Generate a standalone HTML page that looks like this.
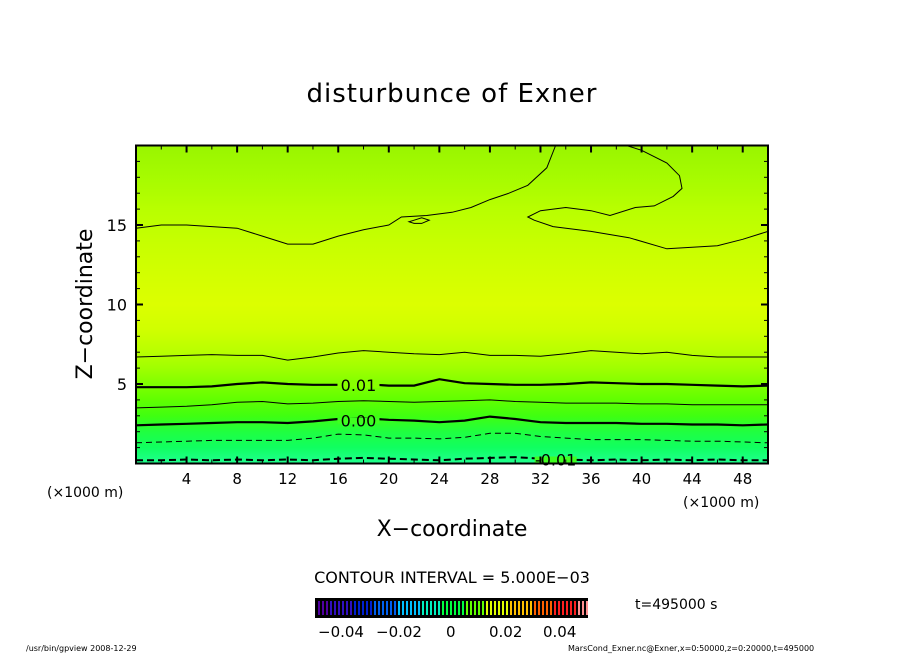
<!DOCTYPE html>
<html><head><meta charset="utf-8"><style>
body{margin:0;background:#fff;}
svg text{font-family:"DejaVu Sans","Liberation Sans",sans-serif;}
</style></head><body>
<svg id="chart" width="904" height="654" xmlns="http://www.w3.org/2000/svg">
<defs>
<linearGradient id="field" x1="0" y1="1" x2="0" y2="0">
<stop offset="0" stop-color="#20ff90"/><stop offset="0.05" stop-color="#10ff60"/>
<stop offset="0.1" stop-color="#20ff40"/><stop offset="0.15" stop-color="#40ff10"/>
<stop offset="0.2" stop-color="#60ff00"/><stop offset="0.25" stop-color="#80ff00"/>
<stop offset="0.3" stop-color="#a0ff00"/><stop offset="0.35" stop-color="#b8ff00"/>
<stop offset="0.42" stop-color="#d0ff00"/><stop offset="0.5" stop-color="#dcff00"/>
<stop offset="0.6" stop-color="#d2ff00"/><stop offset="0.7" stop-color="#c6ff00"/>
<stop offset="0.8" stop-color="#b8ff00"/><stop offset="0.9" stop-color="#a6fb00"/>
<stop offset="1" stop-color="#99f500"/>
</linearGradient>
<linearGradient id="cbar" x1="0" x2="1">
<stop offset="0" stop-color="#5000a0"/><stop offset="0.2" stop-color="#0020d0"/>
<stop offset="0.35" stop-color="#00c0ff"/><stop offset="0.5" stop-color="#00ff40"/>
<stop offset="0.65" stop-color="#e0ff00"/><stop offset="0.8" stop-color="#ff6000"/>
<stop offset="1" stop-color="#ff9090"/>
</linearGradient>
</defs>
<text x="452" y="102" font-size="26" text-anchor="middle" letter-spacing="1">disturbunce of Exner</text>
<rect x="136" y="145.5" width="632" height="318" fill="url(#field)"/>
<g id="contours"></g>
<g id="ticks"></g>
<rect x="136" y="145.5" width="632" height="318" fill="none" stroke="#000" stroke-width="2"/>
<text transform="translate(92,304) rotate(-90)" font-size="22" text-anchor="middle">Z−coordinate</text>
<text x="452" y="536" font-size="22" text-anchor="middle">X−coordinate</text>
<text x="47" y="497" font-size="14">(×1000 m)</text>
<text x="683" y="507" font-size="14">(×1000 m)</text>
<text x="452" y="583" font-size="16" text-anchor="middle">CONTOUR INTERVAL = 5.000E−03</text>
<rect x="315" y="598" width="273" height="20" fill="#000"/>
<g id="cbarlines"></g>
<text y="637" font-size="15">
<tspan x="318">−0.04</tspan><tspan x="376">−0.02</tspan><tspan x="446">0</tspan><tspan x="489">0.02</tspan><tspan x="543">0.04</tspan></text>
<text x="635" y="609" font-size="14">t=495000 s</text>
<text x="26" y="651" font-size="8">/usr/bin/gpview   2008-12-29</text>
<text x="568" y="651" font-size="8">MarsCond_Exner.nc@Exner,x=0:50000,z=0:20000,t=495000</text>
</svg>
<script>
const xs = [0,2,4,6,8,10,12,14,16,18,20,22,24,26,28,30,32,34,36,38,40,42,44,46,48,50];
const c015 = [6.7,6.75,6.8,6.85,6.8,6.8,6.5,6.7,6.95,7.1,7.0,6.9,6.85,7.0,6.8,6.8,6.75,6.9,7.1,7.0,6.9,7.0,6.8,6.7,6.7,6.7];
const c010 = [4.8,4.8,4.8,4.85,5.0,5.1,5.0,4.95,4.95,5.0,4.9,4.9,5.3,5.05,5.0,4.95,4.95,5.0,5.1,5.05,5.0,5.0,4.95,4.9,4.85,4.9];
const c005 = [3.5,3.55,3.6,3.7,3.85,3.9,3.75,3.8,3.9,3.95,3.9,3.85,3.9,3.95,4.0,3.9,3.85,3.8,3.8,3.8,3.75,3.75,3.7,3.7,3.7,3.7];
const c000 = [2.4,2.45,2.5,2.55,2.6,2.6,2.55,2.65,2.8,2.85,2.75,2.7,2.6,2.7,2.95,2.8,2.6,2.55,2.55,2.55,2.5,2.5,2.45,2.45,2.4,2.45];
const cm005 = [1.3,1.35,1.4,1.45,1.45,1.45,1.45,1.6,1.85,1.8,1.6,1.6,1.55,1.65,1.9,1.9,1.7,1.6,1.5,1.5,1.5,1.45,1.4,1.4,1.35,1.3];
const cm010 = [0.2,0.2,0.25,0.2,0.25,0.2,0.25,0.2,0.3,0.35,0.3,0.25,0.2,0.3,0.35,0.4,0.3,0.25,0.2,0.25,0.2,0.25,0.2,0.25,0.2,0.2];
const upperA_x = [0,2,4,6,8,10,12,14,16,18,20,21,23,25,26.5,28,29.5,31,32.5,33.2];
const upperA_z = [14.8,15.0,15.0,14.9,14.8,14.3,13.8,13.8,14.3,14.7,15.0,15.5,15.6,15.8,16.1,16.6,17.0,17.5,18.6,20];
const upperB_x = [38.8,40,42,43,43.2,42.5,41,39.5,37.5,36,34,32,31,31.5,33,36,39,42,44,46,48,50];
const upperB_z = [20,19.7,18.9,18.1,17.3,16.8,16.2,16.1,15.6,15.9,16.1,15.9,15.5,15.3,14.9,14.6,14.2,13.5,13.6,13.7,14.1,14.6];
const smallA_x = [22,22.6,23.2,22.6,22.0,21.6,22];
const smallA_z = [15.3,15.45,15.3,15.1,15.1,15.2,15.3];
const xTicks = [4,8,12,16,20,24,28,32,36,40,44,48];
const yTicks = [5,10,15];

const X0=136,X1=768,Y0=463.5,Y1=145.5;
const sx = v => X0 + v/50*(X1-X0);
const sy = v => Y0 - v/20*(Y0-Y1);
const NS='http://www.w3.org/2000/svg';
const cg=document.getElementById('contours');
function line(xa,za,name,w,dash){
  const p=document.createElementNS(NS,'polyline');
  p.setAttribute('points',xa.map((x,i)=>sx(x).toFixed(1)+','+sy(za[i]).toFixed(1)).join(' '));
  p.setAttribute('fill','none');p.setAttribute('stroke','#000');p.setAttribute('stroke-width',w);
  if(dash)p.setAttribute('stroke-dasharray',dash);
  
  
  cg.appendChild(p);
}
line(xs,c015,'contour-0.015',1);
line(xs,c010,'contour-0.01',2.2);
line(xs,c005,'contour-0.005',1);
line(xs,c000,'contour-0.00',2.2);
line(xs,cm005,'contour-neg-0.005',1,'6,4');
line(xs,cm010,'contour-neg-0.01',2,'7,4');
line(upperA_x,upperA_z,'contour-upper-a',1);
line(upperB_x,upperB_z,'contour-upper-b',1);
line(smallA_x,smallA_z,'contour-small-loop',1);
function clabel(t,x,z,name){
  const r=document.createElementNS(NS,'rect');
  r.setAttribute('x',sx(x)-22);r.setAttribute('y',sy(z)-9);r.setAttribute('width',44);r.setAttribute('height',18);
  r.setAttribute('fill','#7af000');r.setAttribute('opacity','0');cg.appendChild(r);
  const tx=document.createElementNS(NS,'text');
  tx.setAttribute('x',sx(x));tx.setAttribute('y',sy(z)+6);tx.setAttribute('font-size','16');tx.setAttribute('text-anchor','middle');
  tx.setAttribute('stroke','none');tx.textContent=t;
  
  
  // knock out line behind label
  const bg=document.createElementNS(NS,'rect');
  bg.setAttribute('x',sx(x)-21);bg.setAttribute('y',sy(z)-3);bg.setAttribute('width',42);bg.setAttribute('height',6);
  bg.setAttribute('fill',z>4?'#88ff00':'#40ff20');
  cg.appendChild(bg);cg.appendChild(tx);
}
clabel('0.01',17.6,4.95,'label-0.01');
clabel('0.00',17.6,2.7,'label-0.00');
clabel('-0.01',33.2,0.25,'label-neg-0.01');

const tg=document.getElementById('ticks');
function seg(x1,y1,x2,y2,w){const l=document.createElementNS(NS,'line');
 l.setAttribute('x1',x1);l.setAttribute('y1',y1);l.setAttribute('x2',x2);l.setAttribute('y2',y2);
 l.setAttribute('stroke','#000');l.setAttribute('stroke-width',w);tg.appendChild(l);}
for(let v=2;v<50;v+=2){const major=v%4===0;const L=major?7:4;
 seg(sx(v),Y0,sx(v),Y0-L,major?2:1);seg(sx(v),Y1,sx(v),Y1+L,major?2:1);}
for(let v=1;v<20;v++){const major=v%5===0;const L=major?7:4;
 seg(X0,sy(v),X0+L,sy(v),major?2:1);seg(X1,sy(v),X1-L,sy(v),major?2:1);}
xTicks.forEach(v=>{const t=document.createElementNS(NS,'text');
 t.setAttribute('x',sx(v));t.setAttribute('y',484);t.setAttribute('font-size','15');t.setAttribute('text-anchor','middle');
 t.textContent=v;
 
 
 tg.appendChild(t);});
yTicks.forEach(v=>{const t=document.createElementNS(NS,'text');
 t.setAttribute('x',127);t.setAttribute('y',sy(v)+6);t.setAttribute('font-size','16');t.setAttribute('text-anchor','end');
 t.textContent=v;
 
 
 tg.appendChild(t);});

const cb=document.getElementById('cbarlines');
const grad=['#5000a0','#3010c0','#0020d0','#0060f0','#00c0ff','#00f0c0','#00ff40','#60ff00','#e0ff00','#ffc000','#ff6000','#ff2020','#ff9090'];
for(let i=0;i<68;i++){const x=318+i*4;
 const f=i/67*(grad.length-1);const c=grad[Math.round(f)];
 const l=document.createElementNS(NS,'rect');l.setAttribute('x',x);l.setAttribute('y',601);l.setAttribute('width',2);l.setAttribute('height',14);
 l.setAttribute('fill',c);cb.appendChild(l);}
</script>
</body></html>
